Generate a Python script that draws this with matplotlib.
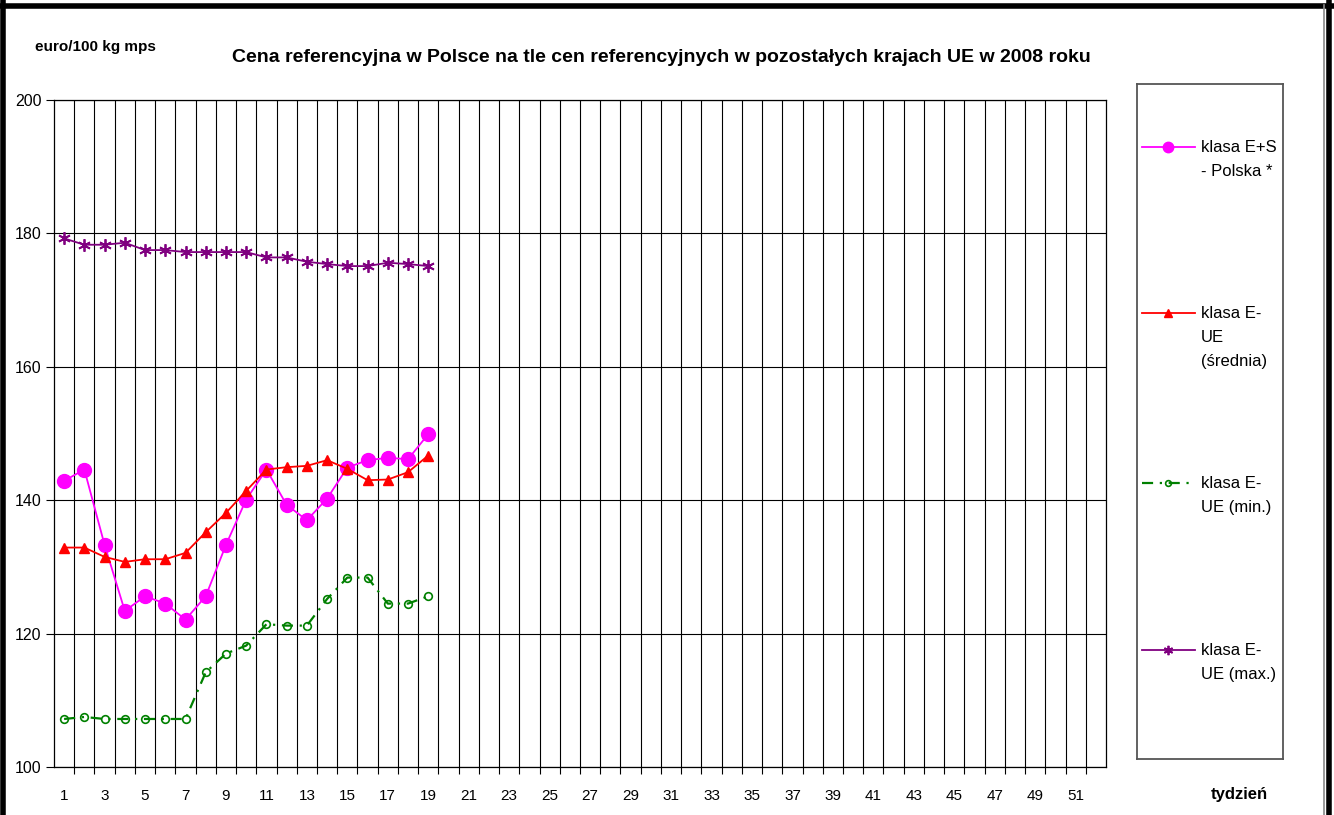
import matplotlib
matplotlib.use("Agg")
import matplotlib.pyplot as plt
from matplotlib.lines import Line2D
import numpy as np

plt.rcParams['font.family'] = ['Liberation Sans', 'DejaVu Sans']

weeks = list(range(1, 20))
polska = [142.9, 144.6, 133.3, 123.4, 125.6, 124.5, 122.1, 125.6, 133.3, 140.1,
          144.6, 139.3, 137.0, 140.25, 144.9, 146.0, 146.35, 146.15, 149.9]
ue_avg = [132.9, 132.9, 131.5, 130.75, 131.15, 131.15, 132.1, 135.2, 138.1, 141.4,
          144.6, 144.95, 145.15, 146.0, 144.7, 143.0, 143.1, 144.2, 146.7]
ue_min = [107.2, 107.5, 107.2, 107.2, 107.2, 107.2, 107.2, 114.2, 117.0, 118.2,
          121.4, 121.2, 121.2, 125.2, 128.4, 128.4, 124.5, 124.5, 125.6]
ue_max = [179.25, 178.3, 178.3, 178.6, 177.5, 177.5, 177.2, 177.2, 177.2, 177.2,
          176.4, 176.4, 175.75, 175.4, 175.1, 175.1, 175.6, 175.4, 175.1]

n_weeks = 52
x_labels = [str(i) for i in range(1, n_weeks + 1, 2)]
y_ticks = [100, 120, 140, 160, 180, 200]

title = "Cena referencyjna w Polsce na tle cen referencyjnych w pozostałych krajach UE w 2008 roku"
y_unit = "euro/100 kg mps"
x_unit = "tydzień"
legend_labels = [["klasa E+S", "- Polska *"],
                 ["klasa E-", "UE", "(średnia)"],
                 ["klasa E-", "UE (min.)"],
                 ["klasa E-", "UE (max.)"]]

W, H = 1334, 815
fig = plt.figure(figsize=(W / 100, H / 100), dpi=100)

def fx(px):
    return px / W

def fy(py):
    return 1 - py / H

ax = fig.add_axes([fx(54), fy(767), fx(1106) - fx(54), fy(100) - fy(767)])

line_styles = [
    dict(color='#FF00FF', lw=1.3, linestyle='-'),
    dict(color='#FF0000', lw=1.3, linestyle='-'),
    dict(color='#008000', lw=1.6, dashes=(5, 3, 1, 3)),
    dict(color='#800080', lw=1.3, linestyle='-'),
]
marker_styles = [
    dict(marker='o', markersize=10, markerfacecolor='#FF00FF', markeredgecolor='#FF00FF'),
    dict(marker='^', markersize=7.5, markerfacecolor='#FF0000', markeredgecolor='#FF0000'),
    dict(marker='o', markersize=5.5, markerfacecolor='none', markeredgecolor='#008000',
         markeredgewidth=1.2),
    dict(marker=(6, 2, 0), markersize=9, markeredgecolor='#800080', markeredgewidth=1.3),
]
series = [polska, ue_avg, ue_min, ue_max]
for s, ls, ms in zip(series, line_styles, marker_styles):
    ax.plot(weeks, s, zorder=3, **ls, **ms)

ax.set_xlim(0.5, n_weeks + 0.5)
ax.set_ylim(100, 200)
ax.set_xticks(range(1, n_weeks + 1, 2))
ax.set_xticklabels(x_labels, fontsize=11)
ax.set_xticks(np.arange(1.5, n_weeks, 1), minor=True)
ax.tick_params(axis='x', which='major', length=0, pad=16)
ax.tick_params(axis='x', which='minor', length=5, width=0.8, direction='out')
ax.set_yticks(y_ticks)
ax.set_yticklabels([str(v) for v in y_ticks], fontsize=11.5)
ax.tick_params(axis='y', length=6, width=0.8, pad=3)
ax.grid(True, which='minor', axis='x', color='black', lw=0.8)
ax.grid(True, which='major', axis='y', color='black', lw=0.8)
for sp in ax.spines.values():
    sp.set_color('black')
    sp.set_linewidth(0.9)

fig.text(fx(35), fy(47), y_unit, fontsize=11, fontweight='bold', va='center', ha='left')
fig.text(fx(661), fy(58), title, fontsize=14, fontweight='bold', va='center', ha='center')
fig.text(fx(1239), fy(795), x_unit, fontsize=12, fontweight='bold', va='center', ha='center')

# legend box
lax = fig.add_axes([fx(1137), fy(759), fx(1283) - fx(1137), fy(84) - fy(759)])
lax.set_xlim(1137, 1283)
lax.set_ylim(759, 84)
lax.set_xticks([])
lax.set_yticks([])
for sp in lax.spines.values():
    sp.set_color('#555555')
    sp.set_linewidth(1.3)
entry_y = [147, 313, 483, 650]
line_gap = 24
for ls, ms, ys, labels in zip(line_styles, marker_styles, entry_y, legend_labels):
    lax.add_line(Line2D([1142, 1195], [ys, ys], **ls))
    ms2 = dict(ms)
    ms2['markersize'] = ms['markersize'] * 0.75
    lax.add_line(Line2D([1168], [ys], linestyle='None', **ms2))
    for i, lab in enumerate(labels):
        lax.text(1201, ys + i * line_gap, lab, fontsize=12, va='center', ha='left')

# outer frame
fig.add_artist(Line2D([fx(2.5), fx(2.5)], [0, 1], color='black', lw=4, transform=fig.transFigure))
fig.add_artist(Line2D([0, 1], [fy(5.5), fy(5.5)], color='black', lw=4, transform=fig.transFigure))
fig.add_artist(Line2D([fx(1324), fx(1324)], [0, fy(5)], color='#888888', lw=1.2, transform=fig.transFigure))
fig.add_artist(Line2D([fx(1329), fx(1329)], [0, 1], color='black', lw=4, transform=fig.transFigure))

fig.savefig("out.png", dpi=100)
